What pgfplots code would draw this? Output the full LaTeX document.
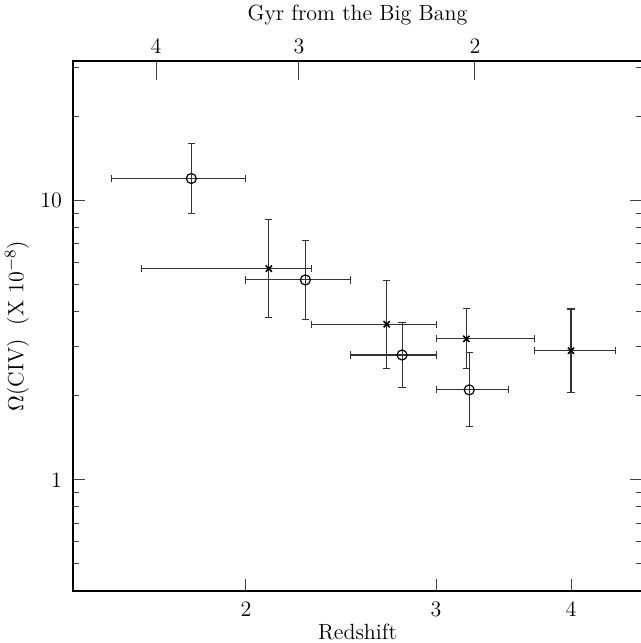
\documentclass[border=0pt]{standalone}
\usepackage{pgfplots}
\pgfplotsset{compat=1.18}
\usepackage{pgfplotstable}

% binned Omega(CIV): open circles and crosses, asymmetric errors
\pgfplotstableread{
x    y     xm    xp    ym     yp
1.78 12.0  0.28  0.22  3.0    4.0
2.27 5.2   0.27  0.23  1.44   2.02
2.79 2.8   0.29  0.21  0.665  0.87
3.22 2.1   0.22  0.28  0.552  0.766
}\circdata
\pgfplotstableread{
x    y     xm    xp    ym     yp
2.1  5.71  0.5   0.2   1.9    2.84
2.7  3.61  0.4   0.3   1.1    1.55
3.2  3.2   0.2   0.5   0.7    0.9
4.0  2.9   0.3   0.4   0.84   1.19
}\crossdata

\begin{document}
\begin{tikzpicture}
\pgfplotsset{
  every axis/.append style={font=\fontsize{11}{13}\selectfont},
  errstyle/.style={
    error bars/.cd,
    x dir=both, x explicit,
    y dir=both, y explicit,
    error bar style={line width=0.55pt, black!80},
    error mark options={rotate=90, line width=0.55pt, black!80, mark size=1.8pt},
  },
}
\begin{axis}[
  at={(0,0)}, anchor=south west,
  scale only axis,
  width=284.5pt, height=265pt,
  xmode=log, ymode=log,
  xmin=1.383, xmax=4.654,
  ymin=0.4, ymax=31.62,
  axis line style={line width=0.9pt},
  xtick={2,3,4}, xticklabels={2,3,4},
  minor x tick style={draw=none},
  xtick pos=bottom,
  ytick={1,10}, yticklabels={1,10},
  minor ytick={0.5,0.6,0.7,0.8,0.9,2,3,4,5,6,7,8,9,20,30},
  ytick pos=both,
  tick align=inside,
  major tick length=6pt, minor tick length=3pt,
  tick style={line width=0.5pt, black!75},
  xticklabel style={yshift=-2pt},
  yticklabel style={xshift=-2pt},
  log ticks with fixed point,
  xlabel={Redshift},
  xlabel style={at={(axis description cs:0.5,-0.0774)}, anchor=center},
  ylabel={$\Omega$(CIV)~~(X~10$^{-8}$)},
  ylabel style={at={(axis description cs:-0.0984,0.5)}, anchor=center},
  clip=false,
]
\addplot[only marks, mark=o, mark size=2.5pt, mark options={line width=0.6pt, black},
  errstyle]
  table[x=x, y=y, x error minus=xm, x error plus=xp, y error minus=ym, y error plus=yp] {\circdata};
\addplot[only marks, mark=x, mark size=2.2pt, mark options={line width=0.8pt, black},
  errstyle]
  table[x=x, y=y, x error minus=xm, x error plus=xp, y error minus=ym, y error plus=yp] {\crossdata};
\end{axis}

% top axis: age of the universe
\begin{axis}[
  at={(0,0)}, anchor=south west,
  scale only axis,
  width=284.5pt, height=265pt,
  xmode=log,
  xmin=1.383, xmax=4.654,
  ymin=0, ymax=1,
  axis line style={draw=none},
  ytick=\empty,
  xtick={1.651,2.239,3.259}, xticklabels={4,3,2},
  minor x tick style={draw=none},
  xtick pos=right, xticklabel pos=right,
  xtick align=inside,
  major tick length=9.5pt,
  tick style={line width=0.5pt, black!75},
  xlabel={Gyr from the Big Bang},
  xlabel style={at={(axis description cs:0.5,1.0868)}, anchor=center},
]
\addplot[draw=none] coordinates {(2,0.5)};
\end{axis}

\pgfresetboundingbox
\path (-36.5pt,-26pt) rectangle (284pt,295.5pt);
\end{tikzpicture}
\end{document}
